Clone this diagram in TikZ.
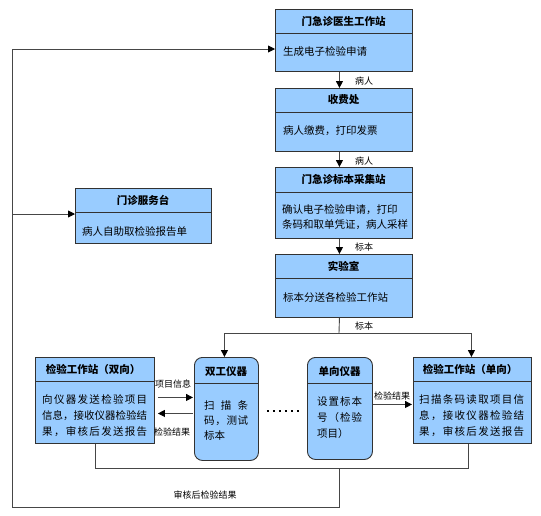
\documentclass[tikz,border=0pt]{standalone}
\usepackage{fontspec}
\setmainfont{Noto Sans CJK SC}
\usetikzlibrary{arrows.meta}
\definecolor{boxblue}{RGB}{153,204,255}
\definecolor{edgecol}{RGB}{50,50,50}
\definecolor{wirecol}{RGB}{70,70,70}
\def\spx#1{\ifx#1\relax\else#1\hfil\expandafter\spx\fi}
\newcommand\jline[2]{\makebox[#1][s]{\spx#2\relax\unskip}}
\begin{document}
\begin{tikzpicture}[x=1pt,y=-1pt,
  panel/.style={draw=edgecol, fill=boxblue, line width=0.9pt, anchor=north west, inner sep=0pt},
  rpanel/.style={panel, rounded corners=8pt},
  divline/.style={draw=edgecol, line width=0.9pt},
  ttl/.style={font=\fontsize{10.5}{13}\selectfont\bfseries, inner sep=0pt},
  txt/.style={font=\fontsize{10.5}{16}\selectfont, inner sep=0pt, anchor=west, align=left},
  txtb/.style={txt, font=\fontsize{10.5}{15}\selectfont},
  lbl/.style={font=\fontsize{9}{11}\selectfont, inner sep=0pt},
  wire/.style={draw=wirecol, line width=0.9pt},
  arr/.style={wire, -{Triangle[length=7pt,width=7pt,color=black]}},
  dots/.style={draw=black, line width=2pt, dash pattern=on 2pt off 4pt}]
\useasboundingbox (0,0) rectangle (541,515);

% boxes
\node[panel, minimum width=137, minimum height=62] (doc) at (275,9) {};
\draw[divline] (275,33) -- (412,33);
\node[panel, minimum width=137, minimum height=63] (fee) at (275,88) {};
\draw[divline] (275,112) -- (412,112);
\node[panel, minimum width=137, minimum height=71] (coll) at (275,167) {};
\draw[divline] (275,192) -- (412,192);
\node[panel, minimum width=137, minimum height=63] (lab) at (275,254) {};
\draw[divline] (275,278) -- (412,278);
\node[panel, minimum width=136, minimum height=55] (svc) at (75,188) {};
\draw[divline] (75,212) -- (211,212);
\node[panel, minimum width=119, minimum height=86] (wsL) at (35,357) {};
\draw[divline] (35,381) -- (154,381);
\node[rpanel, minimum width=64, minimum height=103] (dup) at (194,357) {};
\draw[divline] (194,383) -- (258,383);
\node[rpanel, minimum width=65, minimum height=102] (uni) at (307,357) {};
\draw[divline] (307,383) -- (372,383);
\node[panel, minimum width=118, minimum height=86] (wsR) at (413,357) {};
\draw[divline] (413,381) -- (531,381);

% titles
\node[ttl] (docT) at (343.5,21) {门急诊医生工作站};
\node[ttl] (feeT) at (343.5,100) {收费处};
\node[ttl] (collT) at (343.5,179.5) {门急诊标本采集站};
\node[ttl] (labT) at (343.5,266) {实验室};
\node[ttl] (svcT) at (143,200) {门诊服务台};
\node[ttl] (wsLT) at (93,369) {检验工作站（双向）};
\node[ttl] (dupT) at (226,372) {双工仪器};
\node[ttl] (uniT) at (339.5,372) {单向仪器};
\node[ttl] (wsRT) at (470,369) {检验工作站（单向）};

% bodies
\node[txt] (docB) at (283,52) {生成电子检验申请};
\node[txt] (feeB) at (283,131) {病人缴费，打印发票};
\node[txtb] (collB) at (282,217.5) {确认电子检验申请，打印\\条码和取单凭证，病人采样};
\node[txt] (labB) at (283,297) {标本分送各检验工作站};
\node[txt] (svcB) at (82,232) {病人自助取检验报告单};
\node[txt] (wsLB) at (42,416) {\jline{105pt}{向仪器发送检验项目}\\\jline{105pt}{信息，接收仪器检验结}\\\jline{105pt}{果，审核后发送报告}};
\node[txtb] (dupB) at (204,420) {\jline{44pt}{扫描条}\\\jline{44pt}{码，测试}\\标本};
\node[txt] (uniB) at (317,418) {\jline{45pt}{设置标本}\\\jline{45pt}{号（检验}\\项目）};
\node[txt] (wsRB) at (419,416) {\jline{105pt}{扫描条码读取项目信}\\\jline{105pt}{息，接收仪器检验结}\\\jline{105pt}{果，审核后发送报告}};

% main flow
\draw[arr] ([xshift=-4.5]doc.south) -- ([xshift=-4.5]fee.north);
\node[lbl] (l1) at (364,81) {病人};
\draw[arr] ([xshift=-4.5]fee.south) -- ([xshift=-4.5]coll.north);
\node[lbl] (l2) at (364,161) {病人};
\draw[arr] ([xshift=-4.5]coll.south) -- ([xshift=-4.5]lab.north);
\node[lbl] (l3) at (364,247) {标本};
\coordinate (jn) at (339,333);
\draw[wire] ([xshift=-4.5]lab.south) -- (jn);
\node[lbl] (l4) at (364,326) {标本};
\draw[arr] (jn) -| ([xshift=-2]dup.north);
\draw[arr] (jn) -| ([xshift=-1]wsR.north);

% instrument links
\draw[arr] ([shift={(3,-3)}]wsL.east) -- ([shift={(-1,-11.5)}]dup.west);
\node[lbl] (l5) at (173,384) {项目信息};
\draw[arr] ([shift={(-1,4.5)}]dup.west) -- ([shift={(3,13)}]wsL.east);
\node[lbl] (l6) at (172,432) {检验结果};
\draw[arr] ([shift={(0,-4)}]uni.east) -- ([shift={(-1,4)}]wsR.west);
\node[lbl] (l7) at (392,396) {检验结果};
\draw[dots] ([shift={(8,2.5)}]dup.east) -- ([shift={(-7,3)}]uni.west);

% return path
\draw[wire] (wsL.south) -- ++(0,25) -| ([xshift=-4]wsR.south);
\coordinate (bj) at (339,468);
\coordinate (bl) at (12,507);
\coordinate (tl) at (12,49);
\coordinate (ml) at (12,214);
\draw[arr] (bj) |- (bl) -- (tl) -- (tl -| doc.west);
\draw[arr] (ml) -- (ml -| svc.west);
\node[lbl] (l8) at (205,495) {审核后检验结果};
\end{tikzpicture}
\end{document}
